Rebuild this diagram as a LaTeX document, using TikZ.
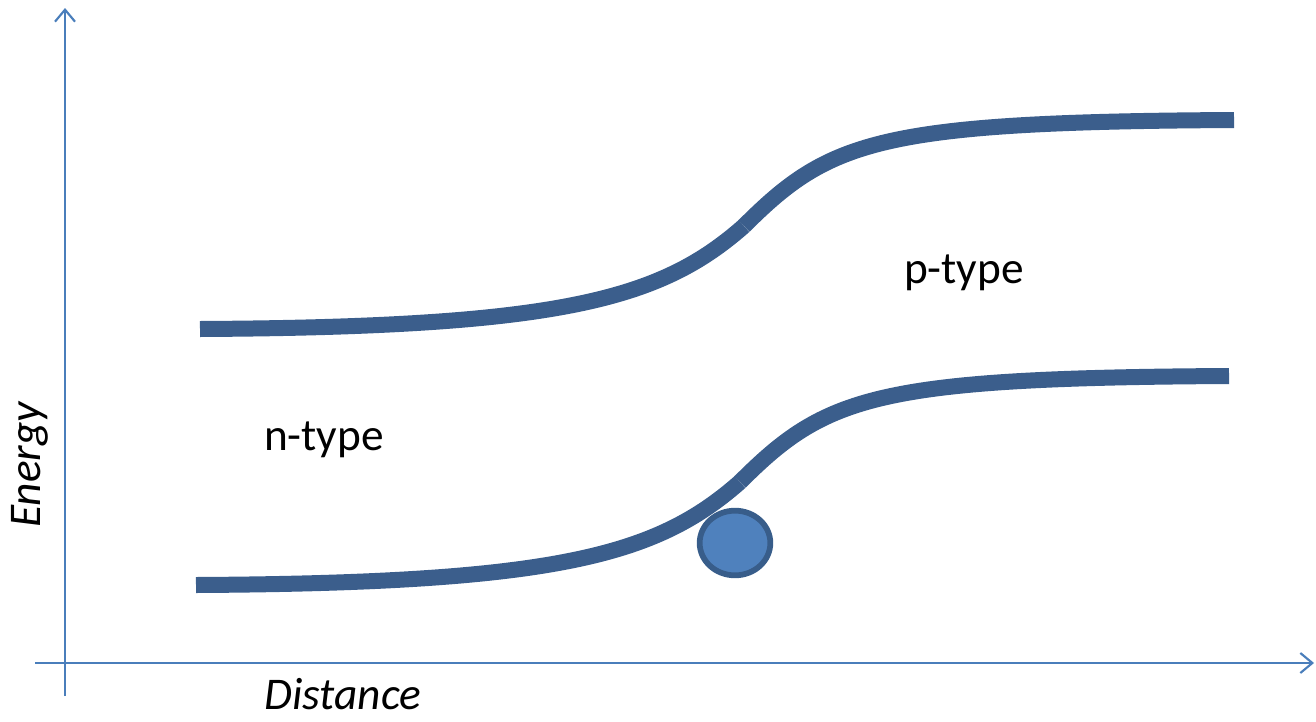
\documentclass[tikz,border=0pt]{standalone}
\usepackage{fontspec}
\setmainfont{Carlito}
\usetikzlibrary{arrows.meta,shapes.geometric}
\definecolor{axisblue}{HTML}{4A7EBB}
\definecolor{bandblue}{HTML}{3B5E8C}
\definecolor{holefill}{HTML}{4F81BD}
\definecolor{holeedge}{HTML}{385D8A}
\tikzset{
  axisline/.style={draw=axisblue, line width=1.6pt, -{Straight Barb[length=9pt,width=15pt,line width=1.6pt]}},
  band/.style={draw=bandblue, line width=12pt, line cap=butt},
  label/.style={font=\fontsize{34}{40}\selectfont, text=black, inner sep=0pt},
  axlabel/.style={font=\itshape\fontsize{34}{40}\selectfont, text=black, inner sep=0pt},
}
\begin{document}
\begin{tikzpicture}[x=0.75pt, y=-0.75pt]
  \useasboundingbox (0,0) rectangle (1316,721);
  % axes
  \coordinate (origin) at (65,663);
  \coordinate (ytop) at (65,8);
  \coordinate (ybot) at (65,696);
  \coordinate (xleft) at (35,663);
  \coordinate (xright) at (1314,663);
  \draw[axisline] (ybot) -- (ytop);
  \draw[axisline] (xleft) -- (xright);
  % conduction band edge
  \coordinate (cbL) at (200,329);
  \coordinate (cbM) at (744,226);
  \coordinate (cbR) at (1234,120);
  \draw[band] (cbL) .. controls (560,327) and (660,300) .. (cbM);
  \draw[band] (cbM) .. controls (830,140) and (880,122) .. (cbR);
  % valence band edge
  \coordinate (vbL) at (196,585);
  \coordinate (vbM) at (740,482);
  \coordinate (vbR) at (1229,376);
  \draw[band] (vbL) .. controls (556,583) and (656,556) .. (vbM);
  \draw[band] (vbM) .. controls (826,396) and (876,378) .. (vbR);
  % hole
  \node[draw=holeedge, fill=holefill, line width=4.3pt, ellipse, minimum width=53pt, minimum height=48.5pt, inner sep=0pt] (hole) at (735,543) {};
  % region labels
  \node[label, anchor=base] (ntype) at (324,450) {n-type};
  \node[label, anchor=base] (ptype) at (964,283) {p-type};
  \node[axlabel, anchor=base] (xlab) at (343,709) {Distance};
  \node[axlabel, anchor=base, rotate=90] (ylab) at (40,465) {Energy};
\end{tikzpicture}
\end{document}
